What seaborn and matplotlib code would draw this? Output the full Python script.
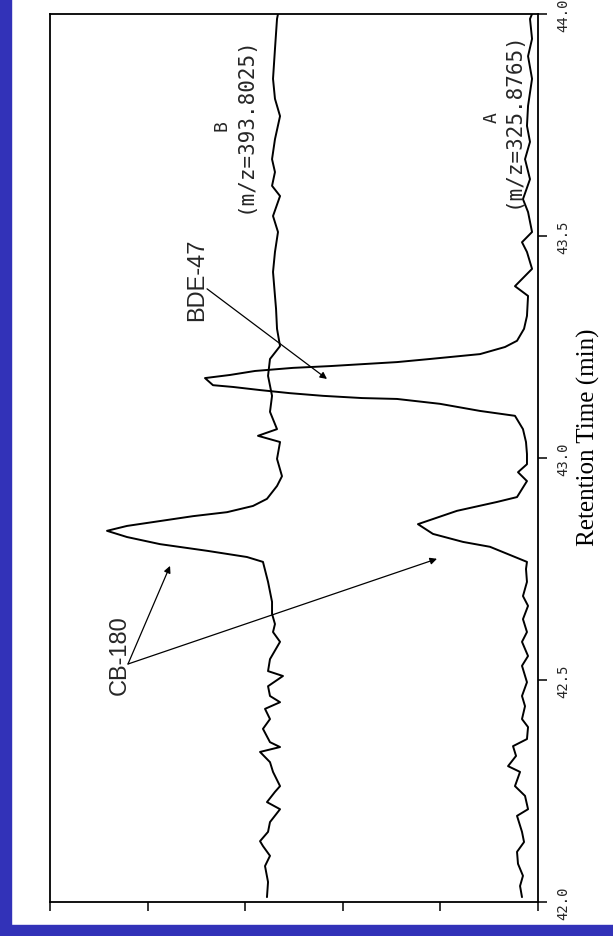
import matplotlib
matplotlib.use("Agg")
import matplotlib.pyplot as plt
from matplotlib.patches import Rectangle
import numpy as np
import pandas as pd
import seaborn as sns

# ---- data -----------------------------------------------------------------
# Retention time (min) and relative intensity (tick units) for trace A (m/z 325.8765)
time_a = [42.011, 42.036, 42.059, 42.086, 42.113, 42.135, 42.158, 42.194, 42.209, 42.239,
          42.261, 42.293, 42.306, 42.329, 42.351, 42.367, 42.394, 42.412, 42.441, 42.464,
          42.495, 42.532, 42.554, 42.586, 42.608, 42.637, 42.667, 42.689, 42.721, 42.750,
          42.766, 42.800, 42.811, 42.829, 42.851, 42.881, 42.901, 42.912, 42.930, 42.948,
          42.968, 42.986, 43.009, 43.036, 43.065, 43.095, 43.106, 43.122, 43.133, 43.135,
          43.140, 43.146, 43.153, 43.160, 43.164, 43.180, 43.187, 43.196, 43.203, 43.207,
          43.212, 43.216, 43.223, 43.234, 43.250, 43.264, 43.291, 43.320, 43.365, 43.387,
          43.426, 43.464, 43.486, 43.509, 43.554, 43.583, 43.628, 43.673, 43.712, 43.748,
          43.793, 43.854, 43.905, 43.944, 43.989, 44.000]
signal_a = [0.164, 0.184, 0.154, 0.205, 0.215, 0.143, 0.164, 0.215, 0.102, 0.133,
            0.236, 0.184, 0.307, 0.225, 0.256, 0.113, 0.102, 0.164, 0.133, 0.164,
            0.113, 0.164, 0.102, 0.164, 0.113, 0.154, 0.102, 0.154, 0.113, 0.123,
            0.113, 0.492, 0.768, 1.076, 1.230, 0.830, 0.420, 0.215, 0.164, 0.113,
            0.205, 0.113, 0.113, 0.123, 0.154, 0.236, 0.594, 1.004, 1.445, 1.803,
            2.203, 2.541, 2.848, 3.125, 3.330, 3.412, 3.156, 2.900, 2.510, 2.131,
            1.752, 1.445, 1.107, 0.594, 0.338, 0.215, 0.143, 0.113, 0.102, 0.236,
            0.061, 0.113, 0.164, 0.061, 0.102, 0.154, 0.082, 0.133, 0.082, 0.113,
            0.102, 0.061, 0.102, 0.061, 0.082, 0.061]

# Trace B (m/z 393.8025)
time_b = [42.011, 42.045, 42.081, 42.104, 42.126, 42.137, 42.158, 42.180, 42.209, 42.225,
          42.248, 42.261, 42.293, 42.315, 42.338, 42.349, 42.360, 42.390, 42.412, 42.435,
          42.450, 42.464, 42.486, 42.509, 42.520, 42.547, 42.586, 42.608, 42.626, 42.649,
          42.676, 42.721, 42.766, 42.777, 42.791, 42.806, 42.822, 42.836, 42.847, 42.858,
          42.869, 42.878, 42.892, 42.908, 42.937, 42.959, 42.998, 43.036, 43.050, 43.065,
          43.104, 43.140, 43.185, 43.223, 43.252, 43.291, 43.336, 43.365, 43.419, 43.464,
          43.509, 43.545, 43.590, 43.613, 43.644, 43.673, 43.718, 43.770, 43.809, 43.854,
          43.921, 43.989, 44.000]
signal_b = [2.777, 2.766, 2.797, 2.746, 2.818, 2.848, 2.766, 2.746, 2.643, 2.777,
            2.695, 2.643, 2.715, 2.746, 2.848, 2.643, 2.746, 2.818, 2.746, 2.797,
            2.643, 2.746, 2.766, 2.613, 2.766, 2.746, 2.643, 2.715, 2.695, 2.725,
            2.725, 2.766, 2.818, 2.982, 3.391, 3.873, 4.211, 4.416, 4.211, 3.873,
            3.535, 3.186, 2.920, 2.777, 2.674, 2.623, 2.674, 2.643, 2.869, 2.674,
            2.746, 2.725, 2.766, 2.746, 2.643, 2.674, 2.684, 2.695, 2.715, 2.695,
            2.664, 2.715, 2.643, 2.725, 2.695, 2.725, 2.695, 2.643, 2.695, 2.715,
            2.695, 2.674, 2.664]

time_ticks = [42.0, 42.5, 43.0, 43.5, 44.0]
time_tick_labels = ["42.0", "42.5", "43.0", "43.5", "44.0"]
intensity_ticks = [0, 1, 2, 3, 4, 5]

trace_names = ["A", "B"]
trace_mz = ["(m/z=325.8765)", "(m/z=393.8025)"]
axis_title = "Retention Time (min)"

# ---- build table -------------------------------------------------------------
df = pd.concat([
    pd.DataFrame({"time": time_a, "signal": signal_a, "trace": "A"}),
    pd.DataFrame({"time": time_b, "signal": signal_b, "trace": "B"}),
], ignore_index=True)

sns.set_theme(style="white")
plt.rcParams["font.family"] = ["Liberation Sans", "DejaVu Sans"]

W, H = 613, 937
fig = plt.figure(figsize=(W / 100, H / 100), dpi=100)
fig.patch.set_facecolor("white")
ax = fig.add_axes([50 / W, (H - 903) / H, 488 / W, 888 / H])

for name in trace_names:
    sns.lineplot(data=df[df["trace"] == name], x="signal", y="time", sort=False,
                 estimator=None, color="black", linewidth=1.4, ax=ax, legend=False)

ax.set_xlim(5, 0)
ax.set_ylim(42, 44)
ax.set_xticks(intensity_ticks)
ax.set_xticklabels([])
ax.set_xlabel("")
ax.yaxis.tick_right()
ax.yaxis.set_label_position("right")
ax.set_yticks(time_ticks)
ax.set_yticklabels(time_tick_labels, family="DejaVu Sans Mono", fontsize=10,
                   rotation=90, va="center")
ax.tick_params(axis="both", direction="out", length=6.5, width=1.1, color="black",
               bottom=True, right=True, left=False, top=False, pad=7)
ax.set_ylabel(axis_title, family="Liberation Serif", fontsize=18, color="black")
ax.yaxis.set_label_coords(1.1025, 0.525)
ax.yaxis.label.set_verticalalignment("center")

for s in ax.spines.values():
    s.set_visible(True)
    s.set_color("black")
    s.set_linewidth(1.3)

# labels for traces
ax.text(3.238, 43.752, trace_names[1], rotation=90, ha="center", va="center",
        fontsize=13, family="DejaVu Sans Mono")
ax.text(3.002, 43.752, trace_mz[1], rotation=90, ha="center", va="center",
        fontsize=15, family="DejaVu Sans Mono")
ax.text(0.471, 43.768, trace_names[0], rotation=90, ha="center", va="center",
        fontsize=13, family="DejaVu Sans Mono")
ax.text(0.256, 43.764, trace_mz[0], rotation=90, ha="center", va="center",
        fontsize=15, family="DejaVu Sans Mono")

# peak annotations
arrow = dict(arrowstyle="-|>", lw=0.9, color="black", mutation_scale=10,
             shrinkA=0, shrinkB=0)
ax.text(3.494, 43.403, "BDE-47", rotation=90, ha="center", va="center", fontsize=17)
ax.annotate("", xy=(2.162, 43.178), xytext=(3.391, 43.381), arrowprops=arrow)
ax.text(4.283, 42.559, "CB-180", rotation=90, ha="center", va="center", fontsize=17)
ax.annotate("", xy=(3.770, 42.757), xytext=(4.201, 42.536), arrowprops=arrow)
ax.annotate("", xy=(1.035, 42.773), xytext=(4.201, 42.536), arrowprops=arrow)

# blue slide frame
blue = "#3232B8"
fig.patches.append(Rectangle((0, 0), 11 / W, 1, transform=fig.transFigure,
                             color=blue, zorder=0))
fig.patches.append(Rectangle((0, 0), 1, 11 / H, transform=fig.transFigure,
                             color=blue, zorder=0))

fig.savefig("out.png", dpi=100)
